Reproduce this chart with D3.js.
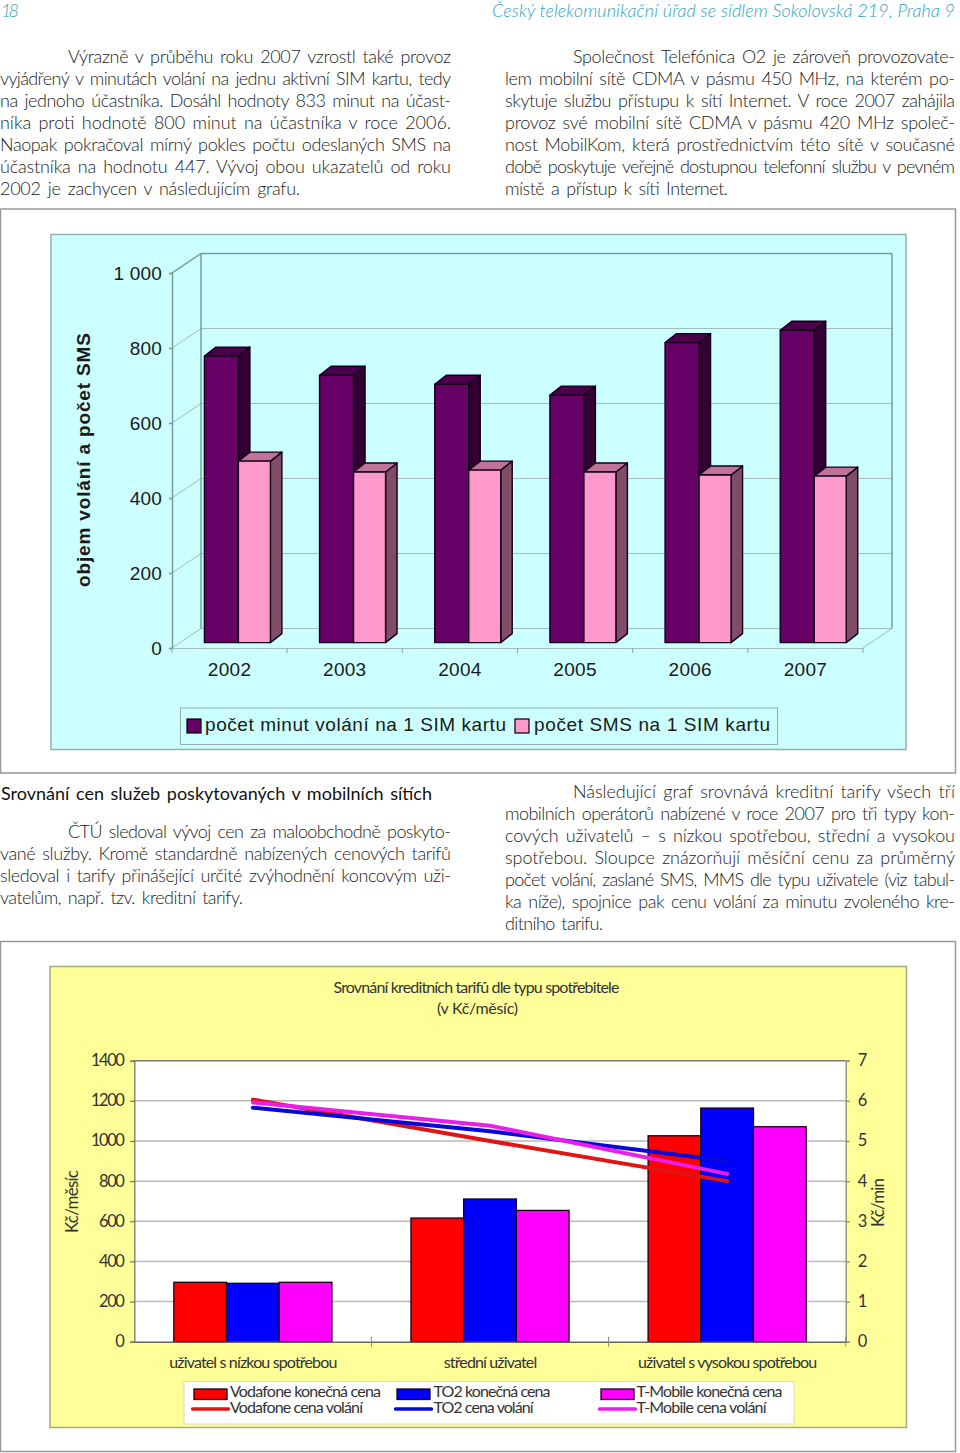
<!DOCTYPE html>
<html lang="cs">
<head>
<meta charset="utf-8">
<script src="https://cdn.jsdelivr.net/npm/d3@7"></script>
<style>
html,body{margin:0;padding:0;background:#fff}
svg{display:block}
text{font-kerning:normal}
</style>
</head>
<body>
<svg id="page" width="960" height="1453" viewBox="0 0 960 1453"></svg>
<script>
// ---------- Text content ----------
const pageNumber = "18";
const runningHead = "Český telekomunikační úřad se sídlem Sokolovská 219, Praha 9";
const paraTopLeft = [
  "Výrazně v průběhu roku 2007 vzrostl také provoz",
  "vyjádřený v minutách volání na jednu aktivní SIM kartu, tedy",
  "na jednoho účastníka. Dosáhl hodnoty 833 minut na účast-",
  "níka proti hodnotě 800 minut na účastníka v roce 2006.",
  "Naopak pokračoval mírný pokles počtu odeslaných SMS na",
  "účastníka na hodnotu 447. Vývoj obou ukazatelů od roku",
  "2002 je zachycen v následujícím grafu."
];
const paraTopRight = [
  "Společnost Telefónica O2 je zároveň provozovate-",
  "lem mobilní sítě CDMA v pásmu 450 MHz, na kterém po-",
  "skytuje službu přístupu k sítí Internet. V roce 2007 zahájila",
  "provoz své mobilní sítě CDMA v pásmu 420 MHz společ-",
  "nost MobilKom, která prostřednictvím této sítě v současné",
  "době poskytuje veřejně dostupnou telefonní službu v pevném",
  "místě a přístup k síti Internet."
];
const sectionHeading = "Srovnání cen služeb poskytovaných v mobilních sítích";
const paraMidLeft = [
  "ČTÚ sledoval vývoj cen za maloobchodně poskyto-",
  "vané služby. Kromě standardně nabízených cenových tarifů",
  "sledoval i tarify přinášející určité zvýhodnění koncovým uži-",
  "vatelům, např. tzv. kreditní tarify."
];
const paraMidRight = [
  "Následující graf srovnává kreditní tarify všech tří",
  "mobilních operátorů nabízené v roce 2007 pro tři typy kon-",
  "cových uživatelů – s nízkou spotřebou, střední a vysokou",
  "spotřebou. Sloupce znázorňují měsíční cenu za průměrný",
  "počet volání, zaslané SMS, MMS dle typu uživatele (viz tabul-",
  "ka níže), spojnice pak cenu volání za minutu zvoleného kre-",
  "ditního tarifu."
];

// ---------- Chart 1 data ----------
const years = ["2002","2003","2004","2005","2006","2007"];
const minutesPerSim = [764, 713, 689, 660, 800, 833];
const smsPerSim = [484, 455, 460, 455, 447, 444];
const usageTicks = [0, 200, 400, 600, 800, 1000];
const usageTickLabels = ["0","200","400","600","800","1 000"];
const usageAxisTitle = "objem volání a počet SMS";
const usageLegend = ["počet minut volání na 1 SIM kartu","počet SMS na 1 SIM kartu"];

// ---------- Chart 2 data ----------
const priceTitle = ["Srovnání kreditních tarifů dle typu spotřebitele","(v Kč/měsíc)"];
const userTypes = ["uživatel s nízkou spotřebou","střední uživatel","uživatel s vysokou spotřebou"];
const operators = ["Vodafone","TO2","T-Mobile"];
const vodafoneFinal = [296, 616, 1026];
const to2Final = [291, 711, 1164];
const tmobileFinal = [296, 654, 1071];
const vodafoneCall = [6.03, 5.0, 4.0];
const to2Call = [5.83, 5.24, 4.5];
const tmobileCall = [5.96, 5.38, 4.18];
const priceTicks = [0,200,400,600,800,1000,1200,1400];
const callTicks = [0,1,2,3,4,5,6,7];

// ---------- Page ----------
const svg = d3.select("#page");
const bodyFont = "Lato, 'Open Sans', sans-serif";
const arial = "'Liberation Sans', Arial, sans-serif";
const bodyColor = "#1c1c1c";

function para(lines, x0, right, baseline, indent, lastEnd) {
  const g = svg.append("g").attr("font-family", bodyFont).attr("font-size", 18)
    .attr("font-weight", 300).attr("word-spacing", 2.5).attr("fill", bodyColor);
  lines.forEach((t, i) => {
    const x = x0 + (i === 0 ? indent : 0);
    const end = i === lines.length - 1 ? lastEnd : right;
    g.append("text").attr("x", x).attr("y", baseline + i * 22)
      .attr("textLength", end - x).attr("lengthAdjust", "spacing").text(t);
  });
}
const teal = "#2ea4c2";
svg.append("text").attr("x", 1).attr("y", 17).attr("font-family", bodyFont).attr("font-style", "italic")
  .attr("font-size", 18).attr("font-weight", 300).attr("fill", teal).attr("textLength", 18).text(pageNumber);
svg.append("text").attr("x", 492).attr("y", 17).attr("font-family", bodyFont).attr("font-style", "italic")
  .attr("font-size", 18).attr("font-weight", 300).attr("fill", teal).attr("textLength", 463).text(runningHead);

para(paraTopLeft, 0, 451, 63, 68, 300);
para(paraTopRight, 505, 955, 63, 68, 728);
svg.append("text").attr("x", 1).attr("y", 800).attr("font-family", bodyFont).attr("font-size", 18)
  .attr("font-weight", 400).attr("fill", "#111").attr("word-spacing", 2).attr("textLength", 431).text(sectionHeading);
para(paraMidLeft, 0, 451, 838, 68, 243);
para(paraMidRight, 505, 955, 798, 68, 603);

// Frames
function frame(x, y, w, h, fill, stroke, sw) {
  svg.append("rect").attr("x", x).attr("y", y).attr("width", w).attr("height", h)
    .attr("fill", fill).attr("stroke", stroke).attr("stroke-width", sw);
}
frame(0.5, 209, 955, 564, "#fff", "#999", 1.5);
frame(51, 234.5, 855, 515, "#ccffff", "#94aeae", 1.5);
frame(0.5, 941.5, 955, 510, "#fff", "#999", 1.5);
frame(50, 966.5, 856.5, 461, "#ffff99", "#a9a97e", 1.5);

// ---------- Chart 1: pseudo-3D columns ----------
(function () {
  const g = svg.append("g");
  const gridC = "#a3bcbc";
  const x = d3.scaleBand().domain(years).range([172, 863]);
  const y = d3.scaleLinear().domain([0, 1000]).range([648, 273]);
  const wallDx = 29, wallDy = -19.5;     // wall depth
  const barDx = 11.5, barDy = -9;        // column depth
  const barLift = -5.4;                  // column plane sits behind the front edge
  const inset = 32.4, w1 = 34, w2 = 32;

  // walls and grid
  const wall = g.append("g").attr("fill", "none").attr("stroke", gridC);
  usageTicks.forEach(t => {
    wall.append("line").attr("x1", 172).attr("y1", y(t)).attr("x2", 172 + wallDx).attr("y2", y(t) + wallDy);
    wall.append("line").attr("x1", 172 + wallDx).attr("y1", y(t) + wallDy).attr("x2", 863 + wallDx).attr("y2", y(t) + wallDy);
  });
  wall.append("line").attr("x1", 172).attr("y1", y(1000)).attr("x2", 172 + wallDx).attr("y2", y(1000) + wallDy).attr("stroke", "#7d9a9a").attr("stroke-width", 1.5);
  wall.append("line").attr("x1", 172 + wallDx).attr("y1", y(1000) + wallDy).attr("x2", 863 + wallDx).attr("y2", y(1000) + wallDy).attr("stroke", "#7d9a9a").attr("stroke-width", 1.5);
  wall.append("line").attr("x1", 172 + wallDx).attr("y1", y(0) + wallDy).attr("x2", 172 + wallDx).attr("y2", y(1000) + wallDy).attr("stroke", "#7d9a9a").attr("stroke-width", 1.5);
  wall.append("line").attr("x1", 863 + wallDx).attr("y1", y(0) + wallDy).attr("x2", 863 + wallDx).attr("y2", y(1000) + wallDy).attr("stroke", "#7d9a9a").attr("stroke-width", 1.5);
  wall.append("line").attr("x1", 863).attr("y1", y(0)).attr("x2", 863 + wallDx).attr("y2", y(0) + wallDy);

  // axes
  const ya = d3.axisLeft(y).tickValues(usageTicks).tickSize(3).tickPadding(7)
    .tickFormat((d, i) => usageTickLabels[i]);
  const ay = g.append("g").attr("transform", "translate(172,0)").call(ya);
  ay.selectAll("path,line").attr("stroke", "#7d9a9a").attr("stroke-width", 1.5);
  ay.selectAll("text").attr("font-family", arial).attr("font-size", 19).attr("letter-spacing", 0.2).attr("fill", "#1a1a1a").attr("dy", "0.34em");

  const xa = d3.axisBottom(x).tickSize(0).tickPadding(15);
  const ax = g.append("g").attr("transform", `translate(0,${y(0)})`).call(xa);
  ax.select("path").attr("stroke", "#a3bcbc").attr("stroke-width", 1.2);
  ax.selectAll("text").attr("font-family", arial).attr("font-size", 19).attr("letter-spacing", 0.3).attr("fill", "#1a1a1a");
  years.concat("end").forEach((yr, i) => {
    const px = 172 + i * x.step();
    ax.append("line").attr("x1", px).attr("x2", px).attr("y1", 0).attr("y2", 5).attr("stroke", "#8aa6a6");
  });

  // columns
  function box(parent, x0, w, v, front, top, side) {
    const yb = y(0) + barLift, yt = y(v) + barLift, x1 = x0 + w;
    const s = parent.append("g").attr("stroke", "#12001a").attr("stroke-width", 1.4).attr("stroke-linejoin", "round");
    s.append("path").attr("fill", side)
      .attr("d", d3.line()([[x1, yt], [x1 + barDx, yt + barDy], [x1 + barDx, yb + barDy], [x1, yb]]) + "Z");
    s.append("path").attr("fill", top)
      .attr("d", d3.line()([[x0, yt], [x0 + barDx, yt + barDy], [x1 + barDx, yt + barDy], [x1, yt]]) + "Z");
    s.append("rect").attr("x", x0).attr("y", yt).attr("width", w).attr("height", yb - yt).attr("fill", front);
  }
  const bars = g.append("g");
  years.forEach((yr, i) => {
    const x0 = x(yr) + inset;
    box(bars, x0, w1, minutesPerSim[i], "#660066", "#4c004c", "#330033");
    box(bars, x0 + w1, w2, smsPerSim[i], "#ff99cc", "#bf7399", "#804d66");
  });

  // axis title
  g.append("text").attr("transform", "translate(90,460) rotate(-90)").attr("text-anchor", "middle")
    .attr("font-family", arial).attr("font-weight", 700).attr("font-size", 19).attr("fill", "#1a1a1a")
    .attr("textLength", 254).text(usageAxisTitle);

  // legend
  g.append("rect").attr("x", 180.5).attr("y", 708).attr("width", 597).attr("height", 36.5)
    .attr("fill", "#ccffff").attr("stroke", "#94aeae");
  [[187, 205, 301, "#660066"], [515, 534, 236, "#ff99cc"]].forEach((d, i) => {
    g.append("rect").attr("x", d[0]).attr("y", 719).attr("width", 14).attr("height", 14)
      .attr("fill", d[3]).attr("stroke", "#000").attr("stroke-width", 1.2);
    g.append("text").attr("x", d[1]).attr("y", 731).attr("font-family", arial).attr("font-size", 19)
      .attr("fill", "#1a1a1a").attr("textLength", d[2]).text(usageLegend[i]);
  });
})();

// ---------- Chart 2: columns and lines ----------
(function () {
  const g = svg.append("g");
  const left = 134.3, right = 845.7, top = 1060.7, bottom = 1341.7;
  const x = d3.scaleBand().domain(userTypes).range([left, right]);
  const y = d3.scaleLinear().domain([0, 1400]).range([bottom, top]);
  const yr = d3.scaleLinear().domain([0, 7]).range([bottom, top]);
  const barW = x.step() / 4.5;
  const colors = ["#ff0000", "#0000ff", "#ff00ff"];
  const lineColors = ["#e01414", "#0808d8", "#e91ee9"];
  const finals = [vodafoneFinal, to2Final, tmobileFinal];
  const calls = [vodafoneCall, to2Call, tmobileCall];

  g.append("rect").attr("x", left).attr("y", top).attr("width", right - left).attr("height", bottom - top).attr("fill", "#fff");
  priceTicks.slice(1, -1).forEach(t => {
    g.append("line").attr("x1", left).attr("x2", right).attr("y1", y(t)).attr("y2", y(t))
      .attr("stroke", "#b9b9b9").attr("stroke-width", 1.5);
  });
  g.append("line").attr("x1", left).attr("x2", right).attr("y1", top).attr("y2", top).attr("stroke", "#7c7c6c").attr("stroke-width", 1.5);

  // columns
  const bars = g.append("g").attr("stroke", "#1a0014").attr("stroke-width", 1.3);
  userTypes.forEach((u, i) => {
    finals.forEach((s, k) => {
      bars.append("rect").attr("x", x(u) + barW * (0.75 + k)).attr("width", barW)
        .attr("y", y(s[i])).attr("height", bottom - y(s[i])).attr("fill", colors[k]);
    });
  });

  // axes
  const al = g.append("g").attr("transform", `translate(${left},0)`)
    .call(d3.axisLeft(y).tickValues(priceTicks).tickSize(4).tickPadding(7).tickFormat(d3.format("d")));
  al.selectAll("path,line").attr("stroke", "#77776a").attr("stroke-width", 1.3);
  al.selectAll("text").attr("font-family", bodyFont).attr("font-size", 16.5)
    .attr("letter-spacing", -1.5).attr("fill", "#333").attr("dy", "0.3em");
  const ar = g.append("g").attr("transform", `translate(${right},0)`)
    .call(d3.axisRight(yr).tickValues(callTicks).tickSize(4).tickPadding(8).tickFormat(d3.format("d")));
  ar.selectAll("path,line").attr("stroke", "#8a8a7c").attr("stroke-width", 1.3);
  ar.selectAll("text").attr("font-family", bodyFont).attr("font-size", 16.5).attr("fill", "#333").attr("dy", "0.3em");
  const ab = g.append("g").attr("transform", `translate(0,${bottom})`)
    .call(d3.axisBottom(x).tickSize(0).tickPadding(15));
  ab.select("path").attr("stroke", "#66665c").attr("stroke-width", 1.5);
  ab.selectAll("text").attr("font-family", bodyFont).attr("font-size", 16).attr("letter-spacing", -0.85).attr("fill", "#333");
  [1, 2, 3].forEach(i => {
    const px = left + i * x.step();
    ab.append("line").attr("x1", px).attr("x2", px).attr("y1", -5).attr("y2", 5).attr("stroke", "#88887a");
  });

  // lines
  const line = d3.line().x((d, i) => x(userTypes[i]) + x.bandwidth() / 2).y(d => yr(d));
  calls.forEach((s, k) => {
    g.append("path").datum(s).attr("d", line).attr("fill", "none").attr("stroke", lineColors[k])
      .attr("stroke-width", 4).attr("stroke-linejoin", "round").attr("stroke-linecap", "round");
  });

  // titles
  const title = g.append("g").attr("font-family", bodyFont).attr("font-size", 16).attr("fill", "#333");
  title.append("text").attr("x", 333.5).attr("y", 993).attr("textLength", 286).text(priceTitle[0]);
  title.append("text").attr("x", 437).attr("y", 1014).attr("textLength", 81).text(priceTitle[1]);
  g.append("text").attr("transform", "translate(78,1201.5) rotate(-90)").attr("text-anchor", "middle")
    .attr("font-family", bodyFont).attr("font-size", 17).attr("fill", "#333").attr("textLength", 63).text("Kč/měsíc");
  g.append("text").attr("transform", "translate(884,1202.5) rotate(-90)").attr("text-anchor", "middle")
    .attr("font-family", bodyFont).attr("font-size", 17).attr("fill", "#333").attr("textLength", 49).text("Kč/min");

  // legend
  g.append("rect").attr("x", 184).attr("y", 1381.5).attr("width", 610).attr("height", 42.5)
    .attr("fill", "#fff").attr("stroke", "#d8d8c8");
  const slots = [[194, 230, 151, 133], [397, 433.5, 117, 100], [601, 636.5, 146, 130]];
  operators.forEach((o, k) => {
    const s = slots[k];
    g.append("rect").attr("x", s[0]).attr("y", 1389).attr("width", 33).attr("height", 10.5)
      .attr("fill", colors[k]).attr("stroke", "#1a0014").attr("stroke-width", 1.3);
    g.append("line").attr("x1", s[0] - 1.5).attr("x2", s[0] + 34.5).attr("y1", 1409).attr("y2", 1409)
      .attr("stroke", lineColors[k]).attr("stroke-width", 3.4).attr("stroke-linecap", "round");
    const lg = g.append("g").attr("font-family", bodyFont).attr("font-size", 16).attr("fill", "#333");
    lg.append("text").attr("x", s[1]).attr("y", 1397).attr("textLength", s[2]).text(o + " konečná cena");
    lg.append("text").attr("x", s[1]).attr("y", 1413).attr("textLength", s[3]).text(o + " cena volání");
  });
})();
</script>
</body>
</html>
